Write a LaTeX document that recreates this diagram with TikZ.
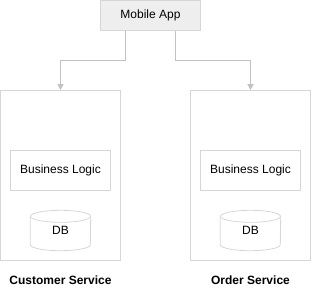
\documentclass[tikz,border=0pt]{standalone}
\usepackage{fontspec}
\setmainfont{Liberation Sans}
\usetikzlibrary{arrows.meta,calc}
\definecolor{boxline}{HTML}{D6D6D6}
\definecolor{arrowline}{HTML}{C2C2C2}
\definecolor{appfill}{HTML}{EEEEEE}
\begin{document}
\begin{tikzpicture}[x=1pt,y=-1pt,
  font=\fontsize{12}{14}\selectfont,
  box/.style={draw=boxline, line width=0.8pt, inner sep=0pt, align=center},
  plain/.style={inner sep=0pt},
  arr/.style={draw=arrowline, line width=1pt, -{Triangle[width=6pt,length=6pt]}},
  dbline/.style={draw=boxline, line width=0.8pt},
  title/.style={font=\fontsize{12}{14}\selectfont\bfseries, inner sep=0pt}]
\useasboundingbox (0,0) rectangle (312,292);
\node[box, fill=appfill, minimum width=100pt, minimum height=30pt] (app) at (150.5,15.5) {Mobile App};
\node[box, minimum width=120pt, minimum height=170pt] (cs) at (60.5,175.5) {};
\node[box, minimum width=120pt, minimum height=170pt] (os) at (250.5,175.5) {};
\node[box, minimum width=100pt, minimum height=40pt] (bl1) at (60.5,170.5) {Business Logic};
\node[box, minimum width=100pt, minimum height=40pt] (bl2) at (250.5,170.5) {Business Logic};
\node[plain, minimum width=60pt, minimum height=40pt] (db1) at (60.5,230.5) {};
\node[plain, minimum width=60pt, minimum height=40pt] (db2) at (250.5,230.5) {};
\foreach \d in {db1,db2}{
  \draw[dbline] ($(\d.north west)+(0,6)$) -- ($(\d.south west)+(0,-6)$)
     arc[start angle=180,end angle=0,x radius=30,y radius=6] -- ($(\d.north east)+(0,6)$);
  \draw[dbline] ($(\d.north)+(0,6)$) ellipse[x radius=30, y radius=6];
}
\node[plain] (dbt1) at (db1.center) {DB};
\node[plain] (dbt2) at (db2.center) {DB};
\node[title] (cst) at (60.5,280) {Customer Service};
\node[title] (ost) at (250.5,280) {Order Service};
\draw[arr] ([xshift=-25pt]app.south) -- ++(0,30) -| (cs.north);
\draw[arr] ([xshift=25pt]app.south) -- ++(0,30) -| (os.north);
\end{tikzpicture}
\end{document}
